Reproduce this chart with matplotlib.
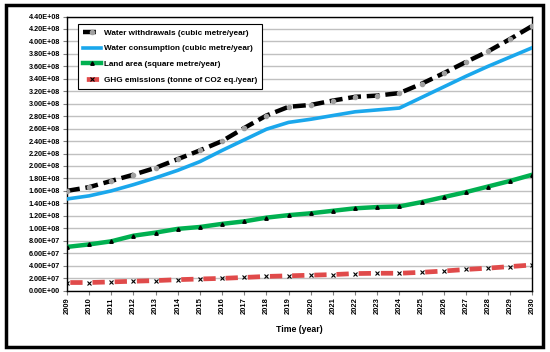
import matplotlib.pyplot as plt
import matplotlib.ticker as mticker
from matplotlib.patches import Rectangle
import numpy as np

plt.rcParams['font.family'] = ['Liberation Sans', 'DejaVu Sans']
plt.rcParams['font.weight'] = 'bold'

years = list(range(2009, 2031))

water_withdrawals = [1.60e8, 1.66e8, 1.76e8, 1.86e8, 1.97e8, 2.11e8, 2.25e8, 2.40e8,
                     2.61e8, 2.81e8, 2.95e8, 2.98e8, 3.05e8, 3.11e8, 3.13e8, 3.17e8,
                     3.32e8, 3.49e8, 3.67e8, 3.84e8, 4.04e8, 4.25e8]
water_consumption = [1.47e8, 1.52e8, 1.60e8, 1.70e8, 1.81e8, 1.93e8, 2.07e8, 2.25e8,
                     2.42e8, 2.59e8, 2.70e8, 2.75e8, 2.81e8, 2.87e8, 2.90e8, 2.93e8,
                     3.10e8, 3.27e8, 3.44e8, 3.60e8, 3.75e8, 3.90e8]
land_area = [7.0e7, 7.4e7, 7.9e7, 8.8e7, 9.3e7, 9.9e7, 1.02e8, 1.07e8,
             1.11e8, 1.17e8, 1.21e8, 1.24e8, 1.28e8, 1.32e8, 1.34e8, 1.35e8,
             1.42e8, 1.50e8, 1.58e8, 1.67e8, 1.76e8, 1.86e8]
ghg_emissions = [1.28e7, 1.28e7, 1.38e7, 1.49e7, 1.59e7, 1.74e7, 1.85e7, 1.95e7,
                 2.10e7, 2.26e7, 2.36e7, 2.46e7, 2.56e7, 2.72e7, 2.77e7, 2.77e7,
                 2.92e7, 3.13e7, 3.38e7, 3.59e7, 3.85e7, 4.10e7]

labels = ['Water withdrawals (cubic metre/year)',
          'Water consumption (cubic metre/year)',
          'Land area (square metre/year)',
          'GHG emissions (tonne of CO2 eq./year)']

fig = plt.figure(figsize=(5.5, 3.52), dpi=100)
ax = fig.add_axes([0.1218, 0.1747, 0.8462, 0.7784])

# outer frame
fig.patches.append(Rectangle((0.01, 0.015), 0.978, 0.972, transform=fig.transFigure,
                             fill=False, edgecolor='black', linewidth=2.5))

ax.plot(years, water_withdrawals, color='black', lw=3.2, dashes=(2.9, 1.3),
        marker='o', ms=3.0, mfc='#a0a0a0', mec='#a0a0a0', label=labels[0], zorder=4)
ax.plot(years, water_consumption, color='#1aa7ec', lw=2.6, label=labels[1], zorder=3)
ax.plot(years, land_area, color='#00b050', lw=3.2, marker='^', ms=2.5,
        mfc='black', mec='black', label=labels[2], zorder=3)
ax.plot(years, ghg_emissions, color='#e04a4a', lw=3.4, linestyle=(4.0, (2.6, 2.1)),
        marker='x', ms=3, mec='black', mew=0.8, label=labels[3], zorder=3)

ax.set_xlim(2009, 2030)
ax.set_ylim(0, 4.4e8)
ax.set_xticks(years)
ax.set_xticklabels([str(y) for y in years], rotation=90, fontsize=5.4, fontweight='bold')
ax.set_yticks(np.arange(0, 4.41e8, 2e7))
ax.yaxis.set_major_formatter(mticker.FuncFormatter(lambda v, p: f'{v:.2E}'))
for t in ax.get_yticklabels():
    t.set_fontsize(5.2)
    t.set_fontweight('bold')
ax.tick_params(axis='both', length=3, width=0.8, color='#808080', pad=2)
ax.grid(axis='y', color='#c0c0c0', lw=1)
ax.set_axisbelow(True)
for s in ax.spines.values():
    s.set_color('black')
    s.set_linewidth(1)

ax.set_xlabel('Time (year)', fontsize=6.3, fontweight='bold', labelpad=8)

leg = ax.legend(loc='upper left', bbox_to_anchor=(0.0236, 0.973), borderaxespad=0,
                fancybox=False, edgecolor='black', framealpha=1,
                handlelength=2.2, handletextpad=0.3, labelspacing=0.95, borderpad=0.65,
                prop={'weight': 'bold', 'size': 5.9})
leg.get_frame().set_linewidth(0.8)

fig.savefig('out.png', dpi=100)
